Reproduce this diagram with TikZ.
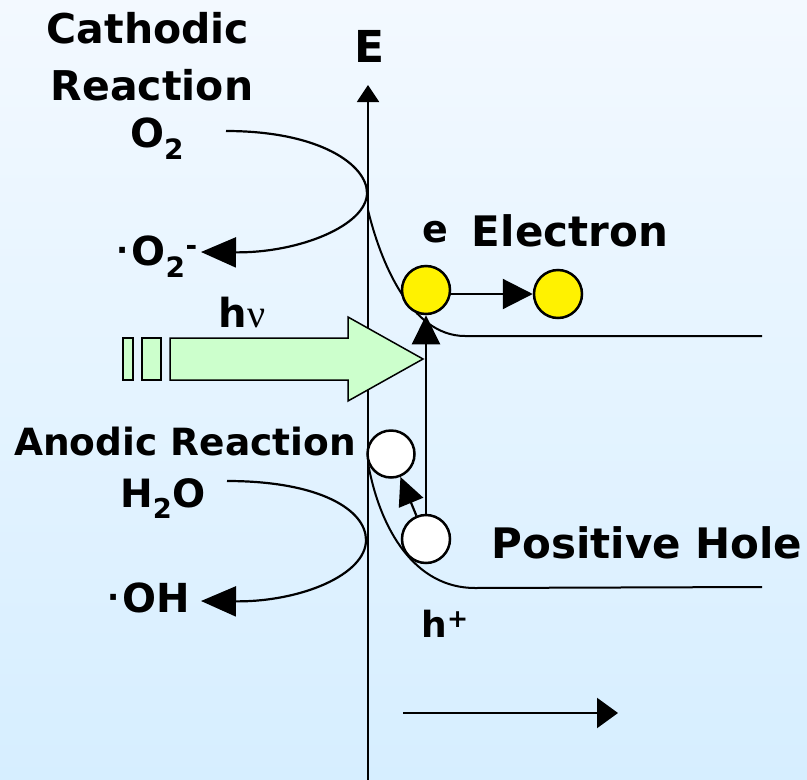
\documentclass[tikz,border=0pt]{standalone}
\usepackage{fontspec}
\setmainfont{DejaVu Sans}
\newfontfamily\greekfont{Liberation Serif}
\usetikzlibrary{arrows.meta}
\newcommand{\fsz}[1]{\fontsize{#1}{#1}\selectfont}
\newcommand{\rdot}{\raisebox{4pt}{\fsz{32}·}\kern3pt}
\definecolor{bgtop}{RGB}{243,249,255}
\definecolor{bgbot}{RGB}{214,238,255}
\definecolor{lightgreen}{RGB}{204,255,204}

\begin{document}
\begin{tikzpicture}[x=1pt, y=-1pt,
  lbl/.style={anchor=base, inner sep=0pt, font=\bfseries},
  ecirc/.style={circle, draw, line width=2.5pt, minimum size=48pt, inner sep=0pt, fill=yellow},
  hcirc/.style={circle, draw, line width=2.5pt, minimum size=47pt, inner sep=0pt, fill=white},
  band/.style={line width=2pt},
  arr/.style={line width=2.2pt, -{Triangle[length=30pt, width=30pt]}}]
\useasboundingbox (0,0) rectangle (807,780);
\shade[top color=bgtop, bottom color=bgbot] (0,0) rectangle (807,780);

% Energy axis
\coordinate (axbot) at (368,780);
\coordinate (axtop) at (368,85);
\draw[line width=2pt, -{Triangle[length=17pt, width=22pt]}] (axbot) -- (axtop);
\node[lbl, font=\bfseries\fsz{44}] (elbl) at (370,62) {E};

% Bands
\draw[band] (368,210) .. controls (380,260) and (410,336) .. (465,336) -- (762,336);
\draw[band] (368,463) .. controls (380,530) and (415,588) .. (475,588) -- (762,587);

% Cathodic reaction
\node[lbl, font=\bfseries\fsz{41}] (cath) at (148,43) {Cathodic};
\node[lbl, font=\bfseries\fsz{41}] (react) at (152,100) {Reaction};
\node[lbl, font=\bfseries\fsz{40}] (oxy) at (157,147) {O\textsubscript{2}};
\node[lbl, font=\bfseries\fsz{40}] (superox) at (157,265) {\rdot O\textsubscript{2}\textsuperscript{-}};
\coordinate (cstart) at (226,131);
\coordinate (cend) at (201,252);
\draw[arr, -{Triangle[length=35pt, width=30pt]}] (cstart) .. controls (320,131) and (367,165) .. (367,193)
  .. controls (367,225) and (300,253) .. (cend);

% Anodic reaction
\node[lbl, font=\bfseries\fsz{37.5}] (anod) at (185,455) {Anodic Reaction};
\node[lbl, font=\bfseries\fsz{39}] (water) at (163,507) {H\textsubscript{2}O};
\node[lbl, font=\bfseries\fsz{40}] (hydrox) at (149,612) {\rdot OH};
\coordinate (astart) at (227,481);
\coordinate (aend) at (201,601);
\draw[arr, -{Triangle[length=35pt, width=30pt]}] (astart) .. controls (320,481) and (366,510) .. (366,540)
  .. controls (366,575) and (300,602) .. (aend);

% Light
\draw[line width=1.5pt, fill=lightgreen] (123,338) rectangle (133,380);
\draw[line width=1.5pt, fill=lightgreen] (142,338) rectangle (161,380);
\draw[line width=1.5pt, fill=lightgreen] (170,338) -- (348,338) -- (348,317) -- (423,359)
  -- (348,401) -- (348,380) -- (170,380) -- cycle;
\node[lbl, font=\bfseries\fsz{40}] (hnu) at (242,327) {h{\greekfont\mdseries ν}};

% Electron
\node[ecirc] (e1) at (426,290) {};
\node[ecirc] (e2) at (558,294) {};
\node[lbl, font=\bfseries\fsz{38}] (elab) at (435,242) {e};
\node[lbl, font=\bfseries\fsz{42}] (electron) at (570,246) {Electron};
\draw[arr] (e1.east |- e2.west) -- (e2.west);

% Holes
\node[hcirc] (h1) at (391,454) {};
\node[hcirc, minimum size=48pt] (h2) at (426,539) {};
\draw[arr, -{Triangle[length=29pt, width=28pt]}] (h2.north) -- (e1.south);
\draw[arr, -{Triangle[length=28pt, width=26pt]}] (h2) -- (h1);
\node[lbl, font=\bfseries\fsz{42}] (hole) at (647,558) {Positive Hole};
\node[lbl, font=\bfseries\fsz{36}] (hplus) at (445,637) {h\textsuperscript{+}};

% Distance
\coordinate (dstart) at (403,713);
\coordinate (dend) at (618,713);
\draw[arr, -{Triangle[length=21pt, width=30pt]}] (dstart) -- (dend);
\end{tikzpicture}
\end{document}
